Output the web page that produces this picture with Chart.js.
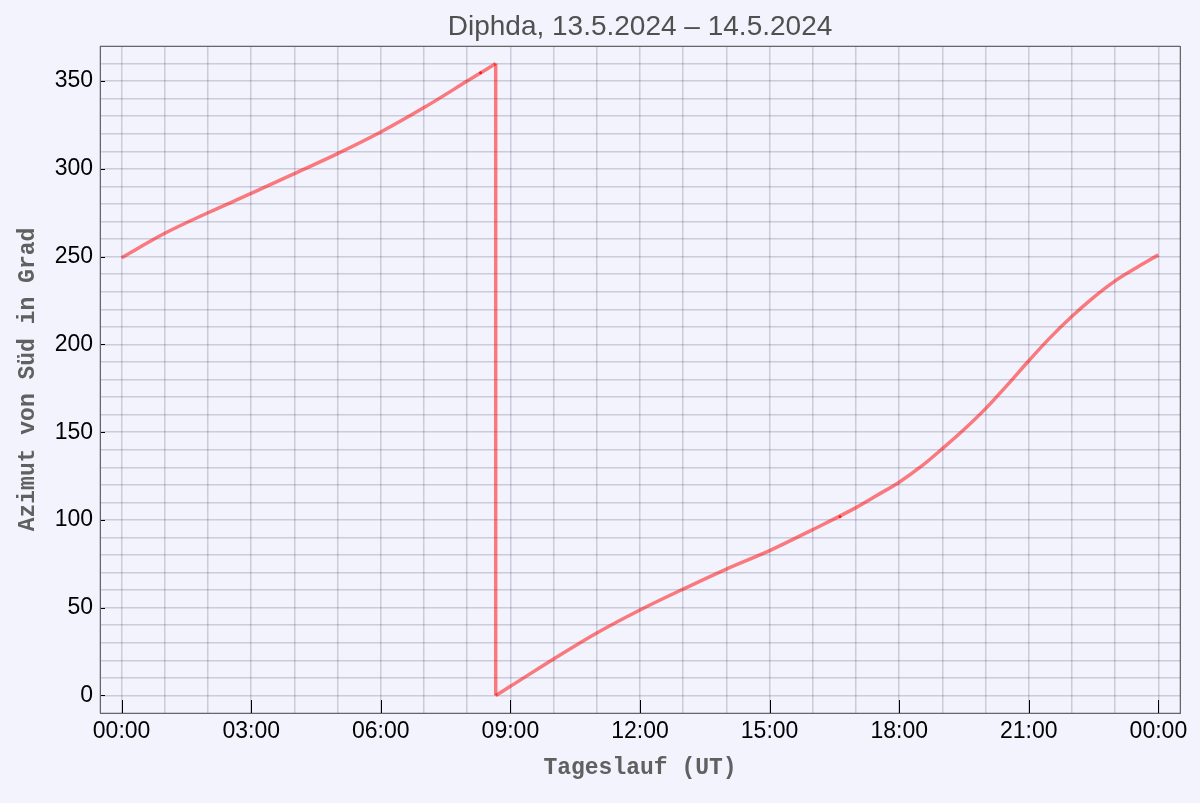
<!DOCTYPE html>
<html>
<head>
<meta charset="utf-8">
<title>Diphda Azimut</title>
<script src="https://cdn.jsdelivr.net/npm/chart.js@4.4.1/dist/chart.umd.min.js"></script>
<style>
    html, body { margin: 0; padding: 0; background: #f3f3fd; }
    #wrap { width: 1200px; height: 803px; position: relative; }
</style>
</head>
<body>
<div id="wrap"><canvas id="azimut-chart"></canvas></div>
<script>
// Azimuth from south in degrees; before and after the 360 -> 0 wrap
const hoursBefore = [0, 1, 2, 3, 4, 5, 6, 7, 8, 8.66];
const azimuthBefore = [249.4, 263.3, 275, 286, 297.3, 308.7, 321, 334.9, 350, 360];
const hoursAfter = [8.66, 9, 10, 11, 12, 13, 14, 15, 16, 17, 17.5,
    18, 18.5, 19, 19.5, 20, 20.5, 21, 21.5, 22, 22.5, 23, 23.5, 24];
const azimuthAfter = [0, 5.2, 20.8, 35.6, 48.7, 60.6, 72, 82.5, 94.5, 107, 114.2,
    121.5, 130.3, 140.6, 151.5, 163.4, 176.8, 190.7, 204, 216, 226.8, 236.2, 243.8, 251];

// Two small marker dots on the curve
const markerHours = [8.31, 16.63];
const markerAzimuth = [354.8, 101.8];

// Axis ticks
const xTickHours = [-0.5, 0, 1, 2, 3, 4, 5, 6, 7, 8, 9, 10, 11, 12, 13, 14, 15, 16, 17, 18, 19, 20, 21, 22, 23, 24, 24.5];
const xLabelHours = [0, 3, 6, 9, 12, 15, 18, 21, 24];
const yTickValues = [-10, 0, 10, 20, 30, 40, 50, 60, 70, 80, 90, 100, 110, 120, 130, 140, 150, 160, 170, 180,
    190, 200, 210, 220, 230, 240, 250, 260, 270, 280, 290, 300, 310, 320, 330, 340, 350, 360, 370];
const yLabelValues = [0, 50, 100, 150, 200, 250, 300, 350];

const sansFont = "'Liberation Sans', Arial, sans-serif";
const monoFont = "'Liberation Mono', 'Courier New', monospace";
const gridColor = 'rgba(20, 20, 60, 0.18)';
const curveColor = 'rgba(255, 0, 0, 0.5)';

const toPoints = (xs, ys) => xs.map((h, i) => ({ x: h, y: ys[i] }));

// Frame around the plot plus inward tick marks
const frameAndTicks = {
    id: 'frameAndTicks',
    afterDraw(chart) {
        const { ctx, chartArea: a, scales: { x, y } } = chart;
        ctx.save();
        ctx.strokeStyle = '#000';
        ctx.lineWidth = 1;
        ctx.beginPath();
        xLabelHours.forEach(h => {
            const px = Math.round(x.getPixelForValue(h)) + 0.5;
            ctx.moveTo(px, a.bottom);
            ctx.lineTo(px, a.bottom - 13);
        });
        yLabelValues.forEach(v => {
            const py = Math.round(y.getPixelForValue(v)) + 0.5;
            ctx.moveTo(a.left, py);
            ctx.lineTo(a.left + 5, py);
        });
        ctx.stroke();
        ctx.strokeStyle = '#666';
        ctx.strokeRect(Math.round(a.left) + 0.5, Math.round(a.top) + 0.5,
            Math.round(a.right - a.left), Math.round(a.bottom - a.top));
        ctx.restore();
    }
};

const curveStyle = {
    borderColor: curveColor,
    borderWidth: 3.5,
    pointRadius: 0,
    cubicInterpolationMode: 'monotone'
};

const ctx = document.getElementById('azimut-chart').getContext('2d');

const chart = new Chart(ctx, {
    type: 'line',
    data: {
        datasets: [
            { ...curveStyle, data: toPoints(hoursBefore, azimuthBefore) },
            {
                ...curveStyle,
                cubicInterpolationMode: 'default',
                tension: 0,
                data: [
                    { x: hoursBefore[hoursBefore.length - 1], y: azimuthBefore[azimuthBefore.length - 1] },
                    { x: hoursAfter[0], y: azimuthAfter[0] }
                ]
            },
            { ...curveStyle, data: toPoints(hoursAfter, azimuthAfter) },
            {
                data: toPoints(markerHours, markerAzimuth),
                showLine: false,
                pointRadius: 1.5,
                pointBorderWidth: 0,
                pointBackgroundColor: 'rgba(255, 0, 0, 0.8)'
            }
        ]
    },
    options: {
        responsive: true,
        maintainAspectRatio: false,
        animation: false,
        layout: {
            padding: { left: 0, right: 20, top: 0, bottom: 0 }
        },
        plugins: {
            legend: { display: false },
            tooltip: { enabled: false },
            title: {
                display: true,
                fullSize: false,
                text: 'Diphda, 13.5.2024 \u2013 14.5.2024',
                color: '#505050',
                font: { family: sansFont, size: 28, weight: 'normal', lineHeight: 1.2 },
                padding: { top: 10.2, bottom: 2.2 }
            }
        },
        scales: {
            x: {
                type: 'linear',
                min: -0.5,
                max: 24.5,
                afterBuildTicks: scale => { scale.ticks = xTickHours.map(v => ({ value: v })); },
                afterFit: scale => { scale.height = 90; },
                border: { display: false },
                grid: { color: gridColor, lineWidth: 1.5, drawTicks: false },
                ticks: {
                    autoSkip: false,
                    maxRotation: 0,
                    padding: 5,
                    color: '#000',
                    font: { family: sansFont, size: 23 },
                    callback: v => {
                        if (!xLabelHours.includes(v)) return '';
                        return String(v % 24).padStart(2, '0') + ':00';
                    }
                },
                title: {
                    display: true,
                    text: 'Tageslauf (UT)',
                    color: '#606060',
                    font: { family: monoFont, size: 23, weight: 'bold', lineHeight: 1.2 },
                    padding: { top: 0, bottom: 21 }
                }
            },
            y: {
                min: -10,
                max: 370,
                afterBuildTicks: scale => { scale.ticks = yTickValues.map(v => ({ value: v })); },
                afterFit: scale => { scale.width = 100; },
                border: { display: false },
                grid: { color: gridColor, lineWidth: 1.5, drawTicks: false },
                ticks: {
                    autoSkip: false,
                    padding: 7,
                    color: '#000',
                    font: { family: sansFont, size: 23 },
                    callback: v => yLabelValues.includes(v) ? String(v) : ''
                },
                title: {
                    display: true,
                    text: 'Azimut von Süd in Grad',
                    color: '#606060',
                    font: { family: monoFont, size: 23, weight: 'bold', lineHeight: 1.2 },
                    padding: { top: 14, bottom: 0 }
                }
            }
        }
    },
    plugins: [frameAndTicks]
});
</script>
</body>
</html>
